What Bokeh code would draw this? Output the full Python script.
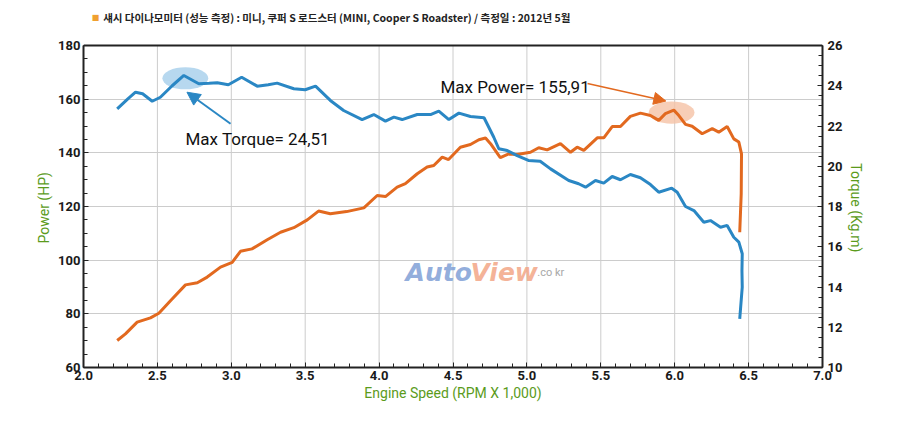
from bokeh.plotting import figure
from bokeh.models import (Range1d, LinearAxis, FixedTicker, PrintfTickFormatter,
                          Label, Arrow, NormalHead, Span)
from bokeh.embed import file_html
from bokeh.resources import INLINE

# 토크 곡선 (rpm x 1000, kg.m)
rpm_torque = [2.228, 2.30, 2.352, 2.40, 2.465, 2.52, 2.60, 2.679, 2.78, 2.85, 2.905, 2.98,
              3.07, 3.175, 3.25, 3.31, 3.423, 3.50, 3.57, 3.67, 3.76, 3.885, 3.964, 4.043,
              4.10, 4.156, 4.258, 4.348, 4.404, 4.472, 4.54, 4.618, 4.71, 4.776, 4.81, 4.867,
              4.934, 5.01, 5.09, 5.16, 5.283, 5.35, 5.397, 5.464, 5.52, 5.577, 5.633, 5.70,
              5.768, 5.836, 5.892, 5.98, 6.017, 6.073, 6.13, 6.197, 6.242, 6.31, 6.355, 6.40,
              6.434, 6.457, 6.455, 6.457, 6.44]
torque = [22.85, 23.35, 23.68, 23.6, 23.23, 23.43, 24.0, 24.51, 24.1, 24.12, 24.15, 24.05,
          24.42, 23.98, 24.05, 24.13, 23.85, 23.8, 23.98, 23.27, 22.77, 22.32, 22.57, 22.24,
          22.44, 22.32, 22.57, 22.57, 22.74, 22.32, 22.64, 22.47, 22.41, 21.44, 20.87, 20.78,
          20.53, 20.29, 20.25, 19.87, 19.29, 19.13, 18.96, 19.29, 19.16, 19.49, 19.33, 19.59,
          19.43, 19.09, 18.71, 18.91, 18.71, 18.0, 17.8, 17.22, 17.30, 16.97, 17.06, 16.47,
          16.23, 15.65, 14.8, 13.99, 12.42]

# 출력 곡선 (rpm x 1000, HP)
rpm_power = [2.228, 2.284, 2.363, 2.453, 2.51, 2.59, 2.69, 2.77, 2.837, 2.927, 3.006, 3.062,
             3.14, 3.243, 3.333, 3.423, 3.514, 3.59, 3.67, 3.78, 3.897, 3.987, 4.043, 4.122,
             4.178, 4.258, 4.325, 4.37, 4.427, 4.47, 4.55, 4.618, 4.675, 4.72, 4.754, 4.82,
             4.877, 4.934, 5.024, 5.08, 5.137, 5.227, 5.295, 5.34, 5.385, 5.476, 5.52, 5.577,
             5.633, 5.70, 5.768, 5.836, 5.892, 5.937, 5.994, 6.028, 6.073, 6.118, 6.186, 6.254,
             6.298, 6.355, 6.40, 6.434, 6.452, 6.45, 6.44]
power = [70.06, 72.55, 76.9, 78.5, 80.2, 85.0, 90.8, 91.6, 93.7, 97.4, 99.2, 103.3,
         104.2, 107.6, 110.4, 112.1, 115.0, 118.3, 117.3, 118.1, 119.5, 124.1, 123.7, 127.2,
         128.5, 132.2, 134.7, 135.3, 138.4, 137.5, 142.1, 143.1, 144.9, 145.5, 143.4, 138.2,
         139.6, 139.4, 140.2, 141.9, 141.1, 143.4, 140.2, 142.1, 140.9, 145.6, 145.6, 149.8,
         149.8, 153.6, 154.8, 153.9, 152.1, 154.6, 155.91, 153.9, 150.6, 149.9, 147.1, 149.0,
         147.7, 149.8, 145.2, 144.0, 139.6, 124.7, 110.4]

x_ticks = [2.0, 2.5, 3.0, 3.5, 4.0, 4.5, 5.0, 5.5, 6.0, 6.5, 7.0]
power_ticks = [60, 80, 100, 120, 140, 160, 180]
torque_ticks = [10, 12, 14, 16, 18, 20, 22, 24, 26]

title_text = "섀시 다이나모미터 (성능 측정)  :  미니, 쿠퍼 S 로드스터 (MINI, Cooper S Roadster) / 측정일 : 2012년 5월"

BLUE = "#2a87c4"
ORANGE = "#e2691f"
GREEN = "#5b9b1c"
FONT = "Roboto"
NBSP = "\u00a0"

# 제목을 그리기 위해 플롯 영역을 위쪽으로 늘림 (축 영역: 322px, 전체 프레임: 361px)
AXIS_PX, FRAME_PX = 322, 361
p_lo, p_hi = power_ticks[0], power_ticks[-1]
t_lo, t_hi = torque_ticks[0], torque_ticks[-1]
p_top = p_lo + (p_hi - p_lo) * FRAME_PX / AXIS_PX
t_top = t_lo + (t_hi - t_lo) * FRAME_PX / AXIS_PX

p = figure(width=884, height=406, x_range=Range1d(2.0, 7.0), y_range=Range1d(p_lo, p_top),
           output_backend="svg", toolbar_location=None,
           min_border_left=83, min_border_right=62, min_border_top=6, min_border_bottom=39)
p.extra_y_ranges = {"torque": Range1d(t_lo, t_top)}
p.background_fill_color = "white"
p.border_fill_color = "white"
p.outline_line_color = None

# 축
p.xaxis.ticker = FixedTicker(ticks=x_ticks, minor_ticks=[2 + i * 0.1 for i in range(51)])
p.xaxis.formatter = PrintfTickFormatter(format="%.1f")
p.xaxis.axis_label = "Engine Speed (RPM X 1,000)"
p.yaxis.ticker = FixedTicker(ticks=power_ticks, minor_ticks=list(range(60, 181, 5)))
p.yaxis.bounds = (p_lo, p_hi)
p.yaxis.axis_label = "Power (HP)" + NBSP * 12

right = LinearAxis(y_range_name="torque", axis_label=NBSP * 12 + "Torque (Kg.m)",
                   bounds=(t_lo, t_hi),
                   ticker=FixedTicker(ticks=torque_ticks, minor_ticks=[10 + i * 0.5 for i in range(33)]))
p.add_layout(right, "right")

for ax in p.axis:
    ax.axis_line_color = "#222222"
    ax.axis_line_width = 2
    ax.major_tick_in = 5
    ax.major_tick_out = 0
    ax.minor_tick_in = 4
    ax.minor_tick_out = 0
    ax.major_tick_line_color = "#222222"
    ax.minor_tick_line_color = "#222222"
    ax.major_label_text_font = FONT
    ax.major_label_text_font_size = "13px"
    ax.major_label_text_font_style = "bold"
    ax.major_label_text_color = "#1a1a1a"
    ax.major_label_standoff = 3
    ax.axis_label_text_font = FONT
    ax.axis_label_text_font_size = "14px"
    ax.axis_label_text_font_style = "normal"
    ax.axis_label_text_color = GREEN
    ax.axis_label_standoff = 3
p.xaxis.axis_label_standoff = 2
right.major_label_standoff = 5

# 격자
p.xgrid.visible = False
p.ygrid.ticker = FixedTicker(ticks=power_ticks)
p.ygrid.grid_line_color = "#cccccc"
p.segment(x0=x_ticks[1:-1], y0=p_lo, x1=x_ticks[1:-1], y1=p_hi, line_color="#cccccc", line_width=1)
p.add_layout(Span(location=p_hi, dimension="width", line_color="#222222", line_width=2))

# 최대값 강조 타원
i_t = torque.index(max(torque))
i_p = power.index(max(power))
p.ellipse(x=rpm_torque[i_t] + 0.01, y=torque[i_t] - 0.14, width=0.31, height=1.1,
          y_range_name="torque", fill_color="#9fcbea", fill_alpha=0.75, line_color=None)
p.ellipse(x=rpm_power[i_p] - 0.015, y=power[i_p] - 0.9, width=0.31, height=8.3,
          fill_color="#f5c2a5", fill_alpha=0.8, line_color=None)

# 곡선
p.line(rpm_power, power, line_color=ORANGE, line_width=3)
p.line(rpm_torque, torque, y_range_name="torque", line_color=BLUE, line_width=3)

# 주석
p.add_layout(Arrow(end=NormalHead(size=13, fill_color=BLUE, line_color=BLUE),
                   x_start=2.995, y_start=22.11, x_end=2.70, y_end=23.68,
                   y_range_name="torque", line_color=BLUE, line_width=2))
p.add_layout(Arrow(end=NormalHead(size=12, fill_color=ORANGE, line_color=ORANGE),
                   x_start=5.41, y_start=165.85, x_end=5.94, y_end=159.3,
                   line_color=ORANGE, line_width=1.5))
p.add_layout(Label(x=2.69, y=145.3, text="Max Torque= 24,51", text_font=FONT,
                   text_font_size="17px", text_color="#111111", text_baseline="middle"))
p.add_layout(Label(x=4.415, y=164.7, text="Max Power= 155,91", text_font=FONT,
                   text_font_size="17px", text_color="#111111", text_baseline="middle"))

# 워터마크
p.add_layout(Label(x=4.179, y=95.4, text="Auto", text_font="DejaVu Sans",
                   text_font_size="25px", text_font_style="bold italic",
                   text_color="#7f9fd6", text_alpha=0.85, text_baseline="alphabetic"))
p.add_layout(Label(x=4.618, y=95.4, text="View", text_font="DejaVu Sans",
                   text_font_size="25px", text_font_style="bold italic",
                   text_color="#f2a586", text_alpha=0.85, text_baseline="alphabetic"))
p.add_layout(Label(x=5.07, y=95.4, text=".co kr", text_font=FONT,
                   text_font_size="11px", text_color="#a8a8a8", text_baseline="alphabetic"))

# 제목
p.add_layout(Label(x=2.082, y=190.3, text="■", text_font="DejaVu Sans", text_font_size="8px",
                   text_color="#f0a030", text_align="center", text_baseline="middle"))
p.add_layout(Label(x=2.133, y=190.3, text=title_text, text_font="Noto Sans CJK KR",
                   text_font_size="10.5px", text_font_style="bold", text_color="#222222",
                   text_baseline="middle"))

open("out.html", "w").write(file_html(p, INLINE))
